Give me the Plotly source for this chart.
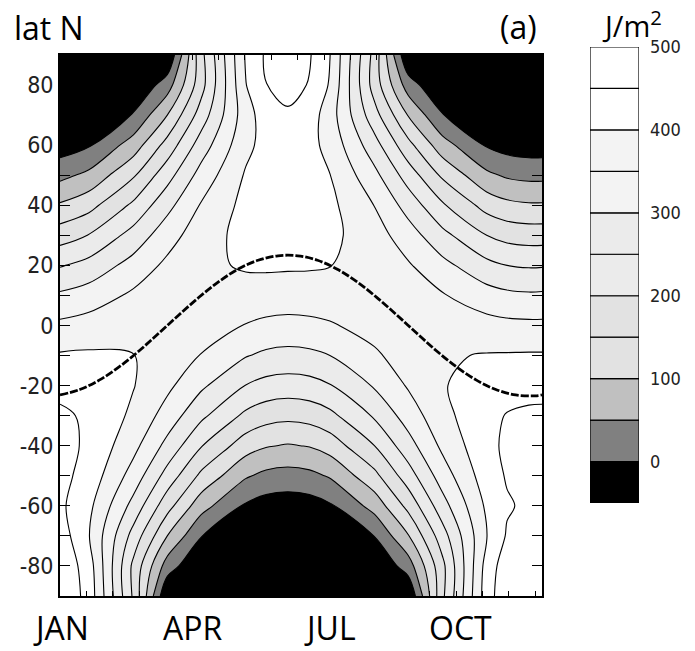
import plotly.graph_objects as go

# ---- data ----
days = [0, 21.9, 55.6, 81.25, 106.9, 140.6, 156.0, 172.5, 189.0, 204.4,
        238.1, 263.75, 289.4, 323.1, 338.5, 355, 365]
lats = [-90, -80, -70, -60, -50, -40, -30, -20, -10, 0,
        10, 20, 30, 40, 50, 60, 70, 80, 90]
flux = [
    [497, 431, 192, -50, -90, -130, -140, -144, -140, -130, -90, -50, 188, 427, 487, 497, 497],
    [492, 424, 188, 26, -50, -90, -100, -104, -100, -90, -50, 25, 185, 420, 479, 492, 492],
    [477, 402, 231, 100, 2, -50, -60, -64, -60, -50, 1, 97, 227, 399, 455, 476, 477],
    [460, 412, 283, 169, 70, -7, -22, -27, -22, -7, 69, 165, 279, 409, 445, 459, 460],
    [465, 431, 329, 231, 139, 56, 37, 31, 37, 55, 136, 227, 324, 427, 454, 465, 465],
    [466, 442, 365, 285, 203, 123, 104, 96, 103, 122, 200, 280, 360, 438, 458, 466, 466],
    [458, 443, 390, 329, 261, 189, 170, 163, 169, 187, 256, 323, 384, 439, 452, 457, 458],
    [437, 431, 402, 361, 309, 249, 233, 227, 232, 247, 305, 355, 396, 427, 434, 437, 437],
    [405, 407, 401, 381, 348, 303, 290, 285, 289, 300, 342, 374, 395, 403, 404, 405, 405],
    [361, 371, 386, 387, 374, 348, 339, 335, 338, 345, 369, 381, 381, 368, 363, 361, 361],
    [308, 323, 359, 381, 388, 382, 378, 376, 377, 379, 383, 374, 354, 321, 311, 307, 308],
    [246, 267, 319, 361, 390, 405, 407, 406, 405, 401, 384, 355, 315, 264, 250, 245, 246],
    [177, 202, 269, 329, 378, 416, 423, 425, 422, 412, 372, 323, 265, 200, 183, 177, 177],
    [106, 133, 210, 285, 354, 415, 429, 434, 427, 412, 349, 280, 207, 131, 113, 106, 106],
    [36, 62, 144, 231, 319, 405, 425, 432, 423, 401, 314, 227, 142, 61, 43, 36, 36],
    [-26, -5, 74, 169, 274, 387, 417, 427, 415, 384, 270, 165, 72, -5, -20, -26, -26],
    [-64, -50, 4, 100, 223, 378, 426, 443, 424, 374, 219, 97, 3, -50, -60, -64, -64],
    [-104, -90, -50, 26, 181, 398, 449, 467, 447, 395, 178, 25, -50, -90, -100, -104, -104],
    [-144, -130, -90, -50, 185, 405, 457, 475, 454, 401, 182, -50, -90, -130, -140, -144, -144],
]

decl_days = [0, 15, 30, 45, 60, 75, 90, 105, 120, 135, 150, 165, 180, 195,
             210, 225, 240, 255, 270, 285, 300, 315, 330, 345, 360, 365]
decl_lat = [-23.1, -21.3, -18.1, -13.7, -8.4, -2.5, 3.5, 9.3, 14.5, 18.8, 21.7, 23.2, 23.2, 21.7,
            18.7, 14.5, 9.3, 3.5, -2.5, -8.4, -13.7, -18.1, -21.3, -23.1, -23.4, -23.1]

cbar_base = [-50, 0, 50, 100, 150, 200, 250, 300, 350, 400, 450]
cbar_colors = ['#000000', '#808080', '#c0c0c0', '#e2e2e2', '#e2e2e2', '#ebebeb',
               '#ebebeb', '#f3f3f3', '#f3f3f3', '#ffffff', '#ffffff']
cbar_ticks = [0, 100, 200, 300, 400, 500]

lat_major = [-80, -60, -40, -20, 0, 20, 40, 60, 80]
lat_major_text = ['-80', '-60', '-40', '-20', '0', '20', '40', '60', '80']
lat_minor = [-70, -50, -30, -10, 10, 30, 50, 70]
day_ticks = list(range(20, 361, 20))
month_labels = ['JAN', 'APR', 'JUL', 'OCT']
month_label_x = [61, 192, 330, 460]

W, H = 695, 651
narrow = "Liberation Sans Narrow, Arial Narrow, DejaVu Sans Condensed, Roboto Condensed, sans-serif"
label_font = "Open Sans, Lato, sans-serif"

n = len(cbar_colors)
colorscale = [[i / (n - 1), c] for i, c in enumerate(cbar_colors)]

fig = go.Figure()
fig.add_trace(go.Contour(
    x=days, y=lats, z=flux,
    contours=dict(start=0, end=450, size=50, coloring='fill', showlines=True),
    line=dict(color='black', width=1.1, smoothing=1.0),
    colorscale=colorscale, showscale=False, hoverinfo='skip',
))
fig.add_trace(go.Scatter(
    x=decl_days, y=decl_lat, mode='lines',
    line=dict(color='black', width=2.8, dash='8px,2px', shape='spline'),
    hoverinfo='skip', showlegend=False,
))
fig.add_trace(go.Bar(
    x=[0] * len(cbar_base), y=[50] * len(cbar_base), base=cbar_base,
    marker=dict(color=cbar_colors, line=dict(color='black', width=1.2)),
    width=1, xaxis='x2', yaxis='y2', showlegend=False, hoverinfo='skip',
))

fig.update_layout(
    width=W, height=H, margin=dict(l=0, r=0, t=0, b=0),
    paper_bgcolor='white', plot_bgcolor='white', barmode='overlay',
    showlegend=False,
    xaxis=dict(domain=[60 / W, 542 / W], range=[0, 365], tickvals=day_ticks,
               showticklabels=False, ticks='inside', ticklen=5, tickwidth=1.2,
               tickcolor='black', mirror='ticks', showline=True, linecolor='black',
               linewidth=1.8, showgrid=False, zeroline=False, automargin=False),
    yaxis=dict(domain=[1 - 596 / H, 1 - 55 / H], range=[-90, 90], tickvals=lat_major,
               ticktext=lat_major_text,
               ticks='inside', ticklen=10, tickwidth=1.4, tickcolor='black',
               minor=dict(tickvals=lat_minor, ticks='inside', ticklen=10, tickwidth=1.4,
                          tickcolor='black', showgrid=False),
               mirror='ticks', showline=True, linecolor='black', linewidth=1.8,
               showgrid=False, zeroline=False, automargin=False,
               tickfont=dict(family=narrow, size=23, color='#222')),
    xaxis2=dict(domain=[590 / W, 639 / W], range=[-0.5, 0.5], visible=False,
                anchor='y2', automargin=False),
    yaxis2=dict(domain=[1 - 503 / H, 1 - 47 / H], range=[-50, 500], anchor='x2', side='right',
                tickvals=cbar_ticks, ticks='', showgrid=False, zeroline=False,
                showline=False, ticklabelstandoff=10, automargin=False,
                tickfont=dict(family=narrow, size=18, color='#222')),
)

annos = [
    dict(text='lat N', x=12, y=28, xanchor='left', yanchor='middle', size=32),
    dict(text='(a)', x=518, y=26, xanchor='center', yanchor='middle', size=32),
    dict(text='J/m<sup>2</sup>', x=632, y=1, xanchor='center', yanchor='top', size=29),
]
for lab, xp in zip(month_labels, month_label_x):
    annos.append(dict(text=lab, x=xp, y=627, xanchor='center', yanchor='middle', size=32))
for a in annos:
    fig.add_annotation(x=a['x'] / W, y=1 - a['y'] / H, xref='paper', yref='paper',
                       text=a['text'], showarrow=False, xanchor=a['xanchor'],
                       yanchor=a['yanchor'],
                       font=dict(family=label_font, size=a['size'], color='black'))

fig.write_html("out.html")
